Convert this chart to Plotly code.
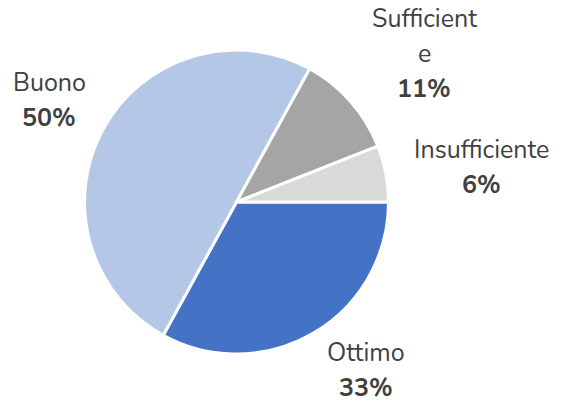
import plotly.graph_objects as go

labels = ["Ottimo", "Buono", "Sufficiente", "Insufficiente"]
values = [33, 50, 11, 6]
colors = ["#4472C4", "#B4C7E7", "#A5A5A5", "#D9D9D9"]

# label lines as shown on the chart (the "Sufficiente" label wraps)
label_lines = [["Ottimo"], ["Buono"], ["Sufficient", "e"], ["Insufficiente"]]
# label anchor (pixels, centre of first line) per slice
label_pos = [(366, 353), (49, 83), (424, 19), (481, 150)]

W, H = 563, 404
LINE = 35

fig = go.Figure(go.Pie(
    labels=labels,
    values=values,
    sort=False,
    direction="clockwise",
    rotation=90,
    marker=dict(colors=colors, line=dict(color="white", width=3)),
    textinfo="none",
    hoverinfo="label+percent",
    domain=dict(x=[84.5 / W, 388.5 / W], y=[50 / H, 354 / H]),
    showlegend=False,
))

total = sum(values)
font = dict(family="Nunito, 'Noto Sans', sans-serif", size=25, color="#404040")
for lines, v, (x, y) in zip(label_lines, values, label_pos):
    texts = lines + [f"<b>{round(100 * v / total)}%</b>"]
    for i, t in enumerate(texts):
        fig.add_annotation(
            x=x / W, y=1 - (y + i * LINE) / H,
            xref="paper", yref="paper",
            text=t, showarrow=False, font=font,
            xanchor="center", yanchor="middle",
        )

fig.update_layout(
    width=W, height=H,
    margin=dict(l=0, r=0, t=0, b=0),
    paper_bgcolor="white",
    plot_bgcolor="white",
)

fig.write_html(
    "out.html",
    config={"displayModeBar": False},
    post_script="document.body.style.margin='0';",
)
